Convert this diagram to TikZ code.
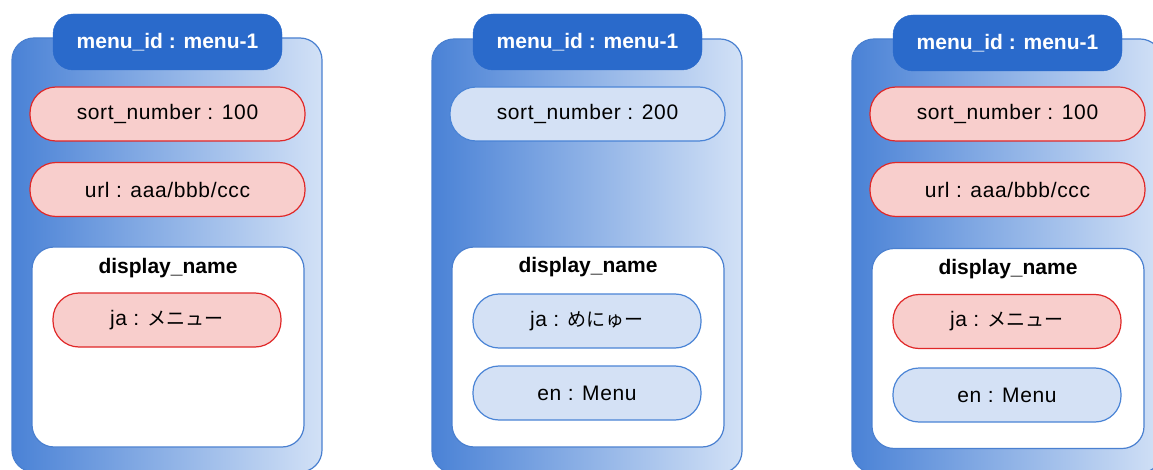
\documentclass[tikz,border=0pt]{standalone}
\usepackage{fontspec}
\setmainfont{Liberation Sans}
\newfontfamily\pillfont{Liberation Sans}[LetterSpace=3]
\newfontfamily\jpfont{Noto Sans CJK JP}
\definecolor{outerblue}{HTML}{4A80D0}
\definecolor{gradL}{HTML}{4A82D6}
\definecolor{gradR}{HTML}{D2E1F6}
\definecolor{tabblue}{HTML}{2A6ACB}
\definecolor{pillred}{HTML}{E02828}
\definecolor{pillredfill}{HTML}{F8CECC}
\definecolor{pillblue}{HTML}{4A84D6}
\definecolor{pillbluefill}{HTML}{D4E1F5}
\begin{document}
\begin{tikzpicture}[x=1pt,y=-1pt,
  txt/.style={font=\pillfont\fontsize{21}{25}\selectfont},
  outer/.style={draw=outerblue, line width=1.2pt, rounded corners=22pt, left color=gradL, right color=gradR, minimum width=310pt, minimum height=434pt, inner sep=0pt},
  tab/.style={fill=tabblue, draw=tabblue, rounded corners=20pt, minimum width=229pt, minimum height=56pt, text=white, font=\bfseries\fontsize{21}{25}\selectfont, inner sep=0pt},
  redpill/.style={txt, draw=pillred, fill=pillredfill, line width=1.2pt, rounded corners=26pt, minimum height=54pt, inner sep=0pt},
  bluepill/.style={txt, draw=pillblue, fill=pillbluefill, line width=1.2pt, rounded corners=26pt, minimum height=54pt, inner sep=0pt},
  dbox/.style={draw=outerblue, fill=white, line width=1.2pt, rounded corners=22pt, minimum width=272pt, minimum height=200pt, inner sep=0pt},
  dtitle/.style={font=\bfseries\fontsize{21}{25}\selectfont, inner sep=0pt}
]
\useasboundingbox (0,0) rectangle (1153,470);
% column 1
\node[outer] (a-outer) at (167,255) {};
\node[tab] (a-tab) at (167.5,42) {menu\_id : menu-1};
\node[redpill, minimum width=275pt] (a-sort) at (167.5,114) {sort\_number : 100};
\node[redpill, minimum width=275pt] (a-url) at (167.5,189.5) {url : aaa/bbb/ccc};
\node[dbox] (a-disp) at (168,347) {};
\node[dtitle] (a-title) at (168,268) {display\_name};
\node[redpill, minimum width=228pt] (a-ja) at (167,320) {ja : {\jpfont\fontsize{19}{23}\selectfont メニュー}};
% column 2
\node[outer] (b-outer) at (587,256) {};
\node[tab] (b-tab) at (587.5,42) {menu\_id : menu-1};
\node[bluepill, minimum width=275pt] (b-sort) at (587.5,114) {sort\_number : 200};
\node[dbox] (b-disp) at (588,347) {};
\node[dtitle] (b-title) at (588,267) {display\_name};
\node[bluepill, minimum width=228pt] (b-ja) at (587,321) {ja : {\jpfont\fontsize{19}{23}\selectfont めにゅー}};
\node[bluepill, minimum width=228pt] (b-en) at (587,393) {en : Menu};
% column 3
\node[outer] (c-outer) at (1007,256) {};
\node[tab] (c-tab) at (1007.5,43) {menu\_id : menu-1};
\node[redpill, minimum width=275pt] (c-sort) at (1007.5,114) {sort\_number : 100};
\node[redpill, minimum width=275pt] (c-url) at (1007.5,189.5) {url : aaa/bbb/ccc};
\node[dbox] (c-disp) at (1008,348.5) {};
\node[dtitle] (c-title) at (1008,269) {display\_name};
\node[redpill, minimum width=228pt] (c-ja) at (1007,321.5) {ja : {\jpfont\fontsize{19}{23}\selectfont メニュー}};
\node[bluepill, minimum width=228pt] (c-en) at (1007,395) {en : Menu};
\end{tikzpicture}
\end{document}
